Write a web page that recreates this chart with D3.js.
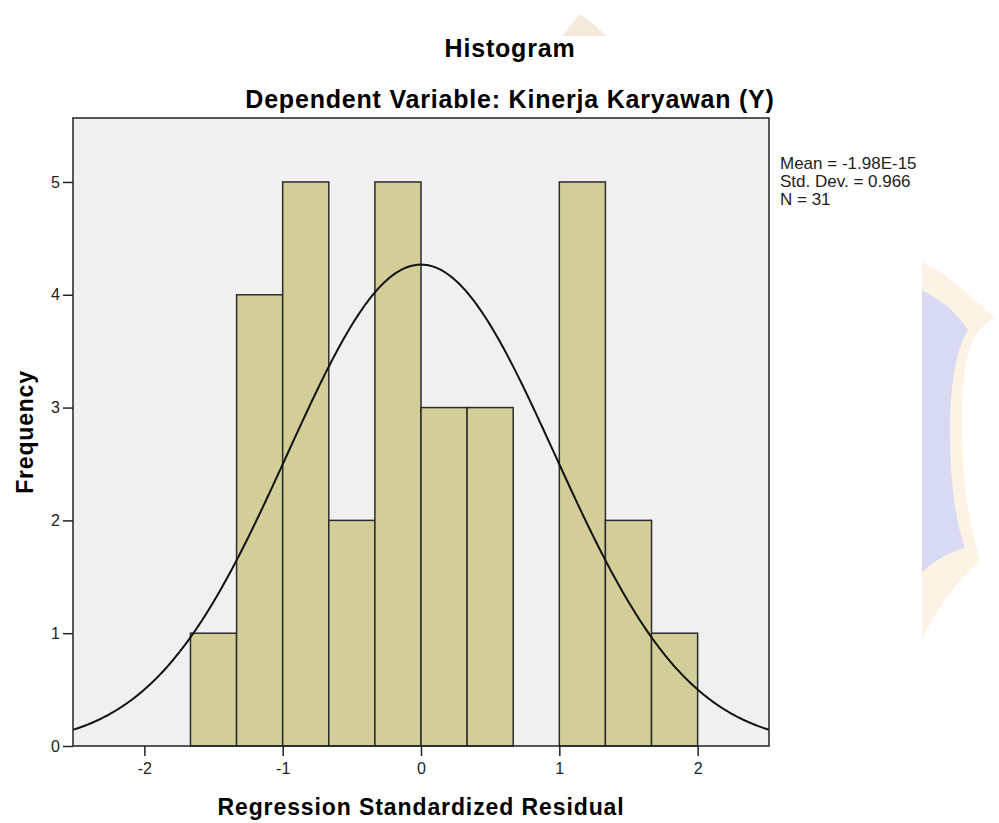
<!DOCTYPE html>
<html lang="en">
<head>
<meta charset="utf-8">
<title>Histogram</title>
<script src="https://cdn.jsdelivr.net/npm/d3@7"></script>
<style>
body { margin: 0; background: #fff; }
svg { display: block; font-family: "Liberation Sans", Arial, sans-serif; }
</style>
</head>
<body>
<div id="chart"></div>
<script>
// bin edges and counts
var binEdges = [-5/3, -4/3, -1, -2/3, -1/3, 0, 1/3, 2/3, 1, 4/3, 5/3, 2];
var counts = [1, 4, 5, 2, 5, 3, 3, 0, 5, 2, 1];
var xTicks = [-2, -1, 0, 1, 2];
var yTicks = [0, 1, 2, 3, 4, 5];
var stats = ["Mean = -1.98E-15", "Std. Dev. = 0.966", "N = 31"];
var mean = -1.98e-15, sd = 0.966, n = 31;

var w = 999, h = 823;
var pLeft = 73, pRight = 769, pTop = 118, pBottom = 746;

var svg = d3.select("#chart").append("svg")
  .attr("width", w).attr("height", h);

// faint watermark pieces
svg.append("path")
  .attr("d", "M922,262 C950,275 975,300 995,318 C970,330 962,360 962,420 C962,480 968,520 980,560 C960,580 940,600 922,640 Z")
  .attr("fill", "#fdf3e4");
svg.append("path")
  .attr("d", "M922,290 C940,300 955,310 968,330 C955,350 950,390 950,430 C950,480 955,520 965,548 C950,552 935,560 922,572 Z")
  .attr("fill", "#d8d9f2");
svg.append("path")
  .attr("d", "M580,14 L596,26 L606,36 L562,36 Z")
  .attr("fill", "#f3eadc");

var x = d3.scaleLinear().domain([-2.516, 2.516]).range([pLeft, pRight]);
var y = d3.scaleLinear().domain([0, 5.567]).range([pBottom, pTop]);

svg.append("rect")
  .attr("x", pLeft).attr("y", pTop)
  .attr("width", pRight - pLeft).attr("height", pBottom - pTop)
  .attr("fill", "#f0f0f0");

// bars
var bins = counts.map(function(c, i) {
  return { x0: binEdges[i], x1: binEdges[i + 1], count: c };
}).filter(function(b) { return b.count > 0; });

svg.selectAll("rect.bar")
  .data(bins)
  .enter()
  .append("rect")
  .attr("class", "bar")
  .attr("x", function(d) { return x(d.x0); })
  .attr("y", function(d) { return y(d.count); })
  .attr("width", function(d) { return x(d.x1) - x(d.x0); })
  .attr("height", function(d) { return y(0) - y(d.count); })
  .attr("fill", "#d3ce98")
  .attr("stroke", "#2b2b2b")
  .attr("stroke-width", 1.5);

// normal curve
var binW = binEdges[1] - binEdges[0];
var curvePts = d3.range(-2.516, 2.5161, 0.01).map(function(v) {
  var z = (v - mean) / sd;
  return [v, n * binW * Math.exp(-0.5 * z * z) / (sd * Math.sqrt(2 * Math.PI))];
});
svg.append("path")
  .datum(curvePts)
  .attr("d", d3.line().x(function(d) { return x(d[0]); }).y(function(d) { return y(d[1]); }))
  .attr("fill", "none")
  .attr("stroke", "#111")
  .attr("stroke-width", 2);

// frame
svg.append("rect")
  .attr("x", pLeft).attr("y", pTop)
  .attr("width", pRight - pLeft).attr("height", pBottom - pTop)
  .attr("fill", "none")
  .attr("stroke", "#222")
  .attr("stroke-width", 1.5);

// axes
var fmt = function(d) { return String(d); };
var xAxis = svg.append("g")
  .attr("transform", "translate(0," + pBottom + ")")
  .call(d3.axisBottom(x).tickValues(xTicks).tickFormat(fmt).tickSize(10).tickPadding(7));
var yAxis = svg.append("g")
  .attr("transform", "translate(" + pLeft + ",0)")
  .call(d3.axisLeft(y).tickValues(yTicks).tickFormat(fmt).tickSize(10).tickPadding(3));
[xAxis, yAxis].forEach(function(g) {
  g.select(".domain").remove();
  g.selectAll("line").attr("stroke", "#222").attr("stroke-width", 1.5);
  g.selectAll("text").attr("font-size", "16px").attr("fill", "#222")
    .attr("font-family", "'Liberation Sans', Arial, sans-serif");
});

// titles
svg.append("text").text("Histogram")
  .attr("x", 510).attr("y", 57)
  .attr("text-anchor", "middle").attr("font-size", "25px").attr("font-weight", "bold")
  .attr("letter-spacing", "0.8px");
svg.append("text").text("Dependent Variable: Kinerja Karyawan (Y)")
  .attr("x", 510).attr("y", 108)
  .attr("text-anchor", "middle").attr("font-size", "25px").attr("font-weight", "bold")
  .attr("letter-spacing", "0.8px");
svg.append("text").text("Regression Standardized Residual")
  .attr("x", 421).attr("y", 815)
  .attr("text-anchor", "middle").attr("font-size", "23px").attr("font-weight", "bold")
  .attr("letter-spacing", "0.9px");
svg.append("text").text("Frequency")
  .attr("transform", "translate(33,432) rotate(-90)")
  .attr("text-anchor", "middle").attr("font-size", "23px").attr("font-weight", "bold")
  .attr("letter-spacing", "0.8px");

// stats legend
svg.selectAll("text.stat")
  .data(stats)
  .enter()
  .append("text")
  .attr("class", "stat")
  .text(function(d) { return d; })
  .attr("x", 780)
  .attr("y", function(d, i) { return 169 + i * 18; })
  .attr("font-size", "17px")
  .attr("fill", "#222");
</script>
</body>
</html>
